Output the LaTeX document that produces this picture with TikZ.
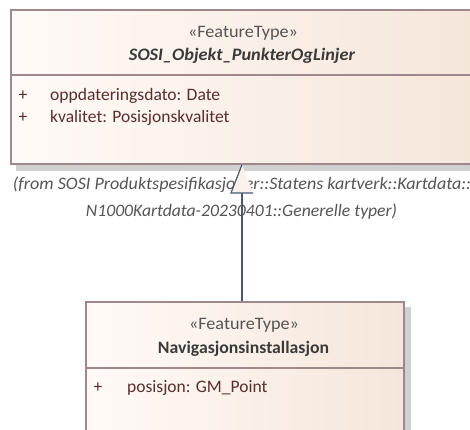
\documentclass[tikz,border=0pt]{standalone}
\usepackage{fontspec}
\usepackage{graphicx}
\setmainfont{Carlito}
\usetikzlibrary{backgrounds}
\definecolor{boxline}{HTML}{9E888C}
\definecolor{boxleft}{HTML}{FFFAF7}
\definecolor{boxright}{HTML}{F5E6DA}
\definecolor{shadowgray}{HTML}{D0D0D0}
\definecolor{attrtext}{HTML}{5A2D2D}
\definecolor{stereo}{HTML}{555555}
\definecolor{nametext}{HTML}{3A3A3A}
\definecolor{conn}{HTML}{4A5878}
% set a label to a given width, keeping its height
\newcommand{\fitto}[2]{\resizebox{#1}{\height}{#2}}
\tikzset{
  classbox/.style={draw=boxline, line width=1.6pt, left color=boxleft, right color=boxright,
    inner sep=0pt, anchor=north west},
  sepline/.style={draw=boxline, line width=1.6pt},
  stereotype/.style={text=stereo, font=\fontsize{17.5}{20}\selectfont, inner sep=0pt},
  classname/.style={text=nametext, font=\fontsize{17.5}{20}\selectfont\bfseries, inner sep=0pt},
  attr/.style={text=attrtext, font=\fontsize{17.5}{20}\selectfont, inner sep=0pt, anchor=west},
  plus/.style={text=attrtext, font=\fontsize{17.5}{20}\selectfont, inner sep=0pt},
  fromtext/.style={text=stereo, font=\fontsize{17.5}{20}\selectfont\itshape, inner sep=0pt},
  generalise/.style={draw=conn, line width=1.2pt},
  dropshadow/.style={fill=shadowgray},
}
\begin{document}
\begin{tikzpicture}[x=1pt, y=-1pt]
\useasboundingbox (0,0) rectangle (470,429);
\clip (0,0) rectangle (470,429);

% superclass
\node[classbox, minimum width=464pt, minimum height=154pt] (super) at (10,9) {};
\draw[sepline] (super.west |- 0,75) -- (super.east |- 0,75);
\node[stereotype] (superst) at (243,33) {\fitto{110pt}{«FeatureType»}};
\node[classname] (supername) at (242,56) {\fitto{226pt}{\itshape SOSI\_Objekt\_PunkterOgLinjer}};
\node[plus] (p1) at (23,96) {+};
\node[attr] (a1) at (50,96) {\fitto{170pt}{oppdateringsdato: Date}};
\node[plus] (p2) at (23,118) {+};
\node[attr] (a2) at (50,118) {kvalitet: Posisjonskvalitet};

% subclass
\node[classbox, minimum width=318pt, minimum height=150pt] (sub) at (85,301) {};
\draw[sepline] (sub.west |- 0,368) -- (sub.east |- 0,368);
\node[stereotype] (subst) at (244,325) {\fitto{110pt}{«FeatureType»}};
\node[classname] (subname) at (243.5,349) {\fitto{171pt}{Navigasjonsinstallasjon}};
\node[plus] (p3) at (98,388) {+};
\node[attr] (a3) at (127,388) {posisjon: GM\_Point};

% page background and drop shadows
\begin{scope}[on background layer]
  \fill[white] (0,0) rectangle (470,429);
  \path[dropshadow] ([shift={(6pt,-6pt)}]super.north west) rectangle ([shift={(6pt,-6pt)}]super.south east);
  \path[dropshadow] ([shift={(6pt,-6pt)}]sub.north west) rectangle ([shift={(6pt,-6pt)}]sub.south east);
\end{scope}

% package note
\node[fromtext] (from1) at (242,185) {\fitto{458pt}{(from SOSI Produktspesifikasjoner::Statens kartverk::Kartdata::}};
\node[fromtext] (from2) at (241.5,212) {\fitto{311pt}{N1000Kartdata-20230401::Generelle typer)}};

% generalisation
\coordinate (tip) at (super.south -| 242,0);
\coordinate (base) at (242,193);
\coordinate (bl) at (231,193);
\coordinate (br) at (253,193);
\draw[generalise] (sub.north -| tip) -- (base);
\fill[boxleft!60!boxright] (tip) -- (bl) -- (br) -- cycle;
\draw[generalise, line join=miter] (tip) -- (bl) -- (br);
\end{tikzpicture}
\end{document}
